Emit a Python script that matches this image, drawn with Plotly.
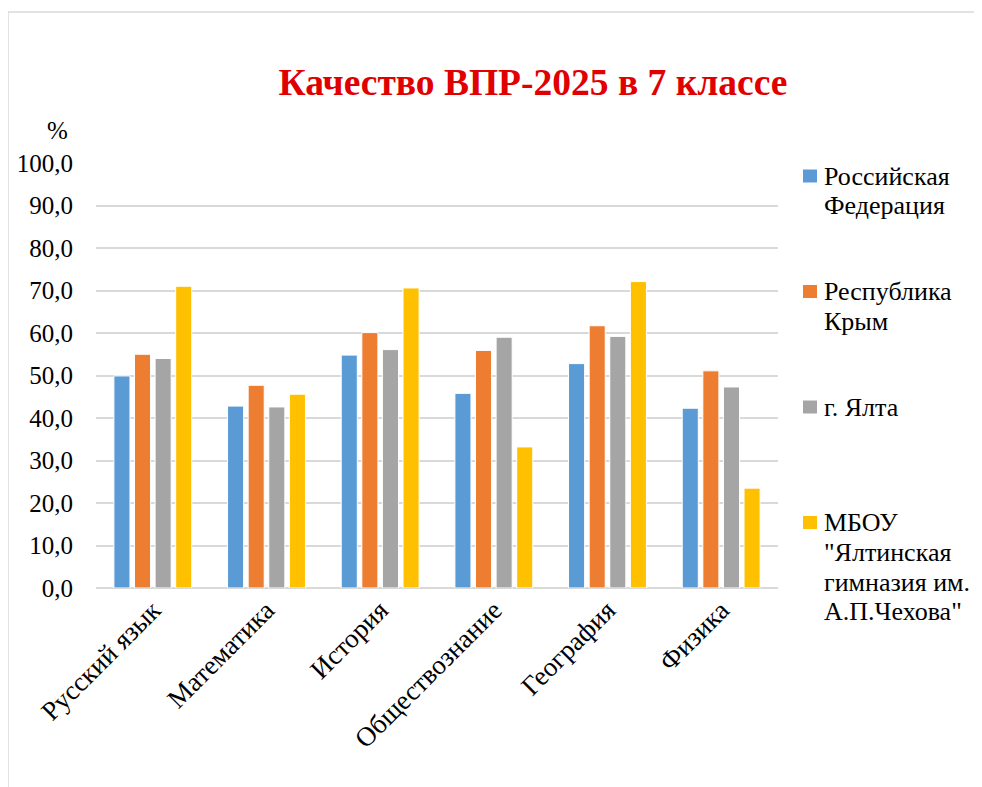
import plotly.graph_objects as go

subjects = ["Русский язык", "Математика", "История", "Обществознание", "География", "Физика"]

series_names = [
    "Российская<br>Федерация",
    "Республика<br>Крым",
    "г. Ялта",
    "МБОУ<br>\"Ялтинская<br>гимназия им.<br>А.П.Чехова\"",
]
rf = [49.9, 42.8, 54.8, 45.8, 52.8, 42.3]
crimea = [55.0, 47.7, 60.1, 55.9, 61.7, 51.1]
yalta = [54.0, 42.6, 56.1, 59.0, 59.2, 47.3]
school = [71.0, 45.6, 70.6, 33.2, 72.1, 23.5]

colors = ["#5B9BD5", "#ED7D31", "#A5A5A5", "#FFC000"]
font = "Liberation Serif"

# plot area in page pixels (page has an 8px body margin)
L, R, T, B = 96, 778, 163, 588


def px_x(p):
    return (p - L) / (R - L)


def px_y(q):
    return (B - q) / (B - T)


fig = go.Figure()
for name, vals, col in zip(series_names, [rf, crimea, yalta, school], colors):
    fig.add_trace(go.Bar(
        x=subjects, y=vals, name=name.replace("<br>", " "),
        marker=dict(color=col, line=dict(color="white", width=1)),
        showlegend=False,
    ))

annotations = [dict(
    text="%", xref="paper", yref="paper", x=px_x(57), y=px_y(130),
    xanchor="center", yanchor="middle", showarrow=False,
    font=dict(family=font, size=25),
)]
shapes = [dict(
    type="rect", xref="paper", yref="paper",
    x0=px_x(8), y0=px_y(900), x1=px_x(1100), y1=px_y(12),
    line=dict(color="#D9D9D9", width=1.5), layer="below",
)]

# hand-made legend, Excel style: entries evenly spaced, tight line spacing
for i, (name, col) in enumerate(zip(series_names, colors)):
    yc = 176 + 115.5 * i
    shapes.append(dict(
        type="rect", xref="paper", yref="paper",
        x0=px_x(803), x1=px_x(817), y0=px_y(yc + 6.5), y1=px_y(yc - 6.5),
        fillcolor=col, line=dict(width=0),
    ))
    for j, line in enumerate(name.split("<br>")):
        annotations.append(dict(
            text=line, xref="paper", yref="paper",
            x=px_x(822), y=px_y(yc + 29.8 * j),
            xanchor="left", yanchor="middle", align="left", showarrow=False,
            font=dict(family=font, size=26),
        ))

fig.update_layout(
    width=974, height=779,
    paper_bgcolor="white", plot_bgcolor="white",
    margin=dict(l=L - 8, r=974 - (R - 8), t=T - 8, b=779 - (B - 8)),
    barmode="group", bargap=0.275, bargroupgap=0.22,
    font=dict(family=font, size=25, color="black"),
    title=dict(
        text="<b>Качество ВПР-2025 в 7 классе</b>",
        x=(533 - 8) / 974, xanchor="center", y=1 - (82 - 8) / 779, yanchor="middle",
        font=dict(family=font, size=37.5, color="#E00000"),
    ),
    showlegend=False,
    annotations=annotations,
    shapes=shapes,
    separators=", ",
)

fig.update_yaxes(
    range=[0, 100], dtick=10, tickformat=".1f", automargin=False,
    showgrid=True, gridcolor="#D9D9D9", gridwidth=1.5,
    zeroline=True, zerolinecolor="#D9D9D9", zerolinewidth=1.5,
    showline=False, ticklabelstandoff=22,
    tickfont=dict(family=font, size=25),
)
fig.update_xaxes(
    tickangle=-45, showline=False, showgrid=False, automargin=False,
    tickfont=dict(family=font, size=27),
)

fig.write_html("out.html")
